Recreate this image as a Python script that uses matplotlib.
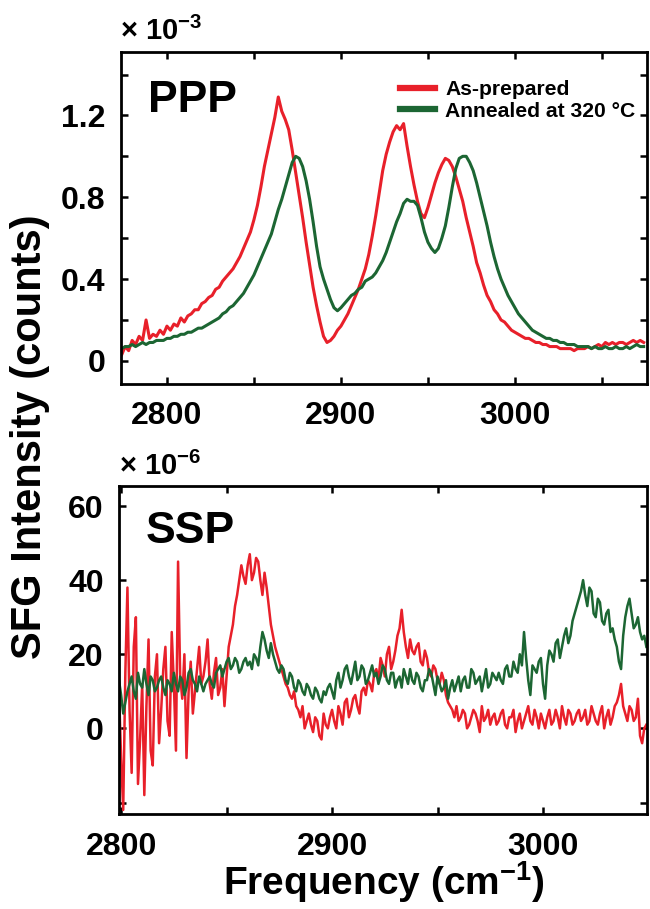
import numpy as np
import matplotlib
matplotlib.use("Agg")
import matplotlib.pyplot as plt
from matplotlib.ticker import FixedLocator, FixedFormatter

plt.rcParams['font.family'] = ['Liberation Sans', 'DejaVu Sans']
plt.rcParams['font.weight'] = 'bold'
plt.rcParams['mathtext.fontset'] = 'custom'
plt.rcParams['mathtext.rm'] = 'Liberation Sans:bold'
plt.rcParams['mathtext.bf'] = 'Liberation Sans:bold'

# ---------------- data ----------------
series_names = ["As-prepared", "Annealed at 320 \u00b0C"]

# PPP (x 1e-3), frequency grid 2774..3074 step 2
ppp_freq = np.arange(2774, 3075, 2)
ppp_asprep = [
    0.03, 0.07, 0.05, 0.10, 0.08, 0.12, 0.10, 0.20, 0.11, 0.13,
    0.12, 0.15, 0.13, 0.17, 0.15, 0.18, 0.17, 0.21, 0.19, 0.22,
    0.23, 0.25, 0.25, 0.28, 0.29, 0.31, 0.32, 0.35, 0.36, 0.39,
    0.41, 0.43, 0.45, 0.48, 0.51, 0.55, 0.59, 0.63, 0.69, 0.76,
    0.85, 0.95, 1.03, 1.11, 1.19, 1.29, 1.22, 1.18, 1.13, 1.03,
    0.92, 0.81, 0.70, 0.58, 0.47, 0.36, 0.27, 0.19, 0.12, 0.09,
    0.10, 0.12, 0.15, 0.17, 0.20, 0.23, 0.27, 0.31, 0.35, 0.40,
    0.45, 0.52, 0.61, 0.71, 0.82, 0.93, 1.01, 1.07, 1.12, 1.15,
    1.13, 1.16, 1.05, 0.95, 0.86, 0.78, 0.72, 0.70, 0.75, 0.81,
    0.87, 0.92, 0.96, 0.99, 0.98, 0.95, 0.90, 0.84, 0.78, 0.70,
    0.63, 0.56, 0.48, 0.43, 0.37, 0.32, 0.29, 0.25, 0.23, 0.20,
    0.19, 0.17, 0.15, 0.14, 0.13, 0.12, 0.11, 0.11, 0.10, 0.09,
    0.09, 0.08, 0.08, 0.07, 0.07, 0.07, 0.06, 0.06, 0.06, 0.06,
    0.05, 0.06, 0.06, 0.06, 0.07, 0.06, 0.07, 0.08, 0.07, 0.09,
    0.08, 0.09, 0.08, 0.09, 0.09, 0.08, 0.09, 0.10, 0.09, 0.10,
    0.09,
]
ppp_annealed = [
    0.06, 0.07, 0.07, 0.08, 0.07, 0.08, 0.09, 0.08, 0.09, 0.09,
    0.10, 0.10, 0.10, 0.11, 0.11, 0.12, 0.12, 0.13, 0.13, 0.14,
    0.14, 0.15, 0.16, 0.16, 0.17, 0.18, 0.19, 0.20, 0.21, 0.23,
    0.24, 0.26, 0.27, 0.29, 0.31, 0.33, 0.36, 0.39, 0.42, 0.46,
    0.50, 0.54, 0.58, 0.62, 0.68, 0.74, 0.79, 0.85, 0.91, 0.97,
    1.00, 0.99, 0.95, 0.88, 0.79, 0.68, 0.56, 0.46, 0.40, 0.35,
    0.30, 0.26, 0.245, 0.26, 0.28, 0.30, 0.32, 0.33, 0.35, 0.36,
    0.39, 0.40, 0.41, 0.43, 0.46, 0.49, 0.53, 0.58, 0.63, 0.68,
    0.72, 0.77, 0.79, 0.78, 0.78, 0.76, 0.70, 0.63, 0.58, 0.55,
    0.53, 0.55, 0.60, 0.66, 0.75, 0.85, 0.94, 0.99, 1.00, 1.00,
    0.97, 0.93, 0.87, 0.80, 0.73, 0.66, 0.58, 0.51, 0.45, 0.40,
    0.36, 0.32, 0.29, 0.26, 0.23, 0.21, 0.19, 0.17, 0.15, 0.14,
    0.13, 0.12, 0.11, 0.11, 0.10, 0.10, 0.09, 0.09, 0.08, 0.08,
    0.08, 0.07, 0.07, 0.07, 0.07, 0.06, 0.07, 0.06, 0.06, 0.07,
    0.06, 0.06, 0.07, 0.06, 0.06, 0.07, 0.06, 0.07, 0.08, 0.07,
    0.07,
]

# SSP (x 1e-6), frequency grid 2799..3049 step 1
ssp_freq = np.arange(2799, 3050, 1)
ssp_asprep = [
    10, -8, -22, 15, 38, 5, -12, 22, 30, -15, -3, 12, -18, 6, 24, -6, -10, 14, 20, -4,
    5, 16, 22, 2, -2, 26, 12, -6, 45, 14, 8, 20, -8, 10, 18, 4, 10, 16, 22, 12,
    14, 18, 24, 12, 8, 15, 19, 9, 11, 16, 6, 14, 22, 25, 28, 33, 36, 40, 44, 41,
    39, 44, 47, 40, 42, 46, 45, 40, 36, 42, 38, 33, 28, 25, 22, 20, 18, 16, 14, 12,
    11, 9, 8, 10, 6, 5, 3, 6, 0, 2, 4, 1, -1, 3, 2, -2, -3, 4, 1, 0,
    3, 5, 2, 0, 6, 4, 1, 7, 8, 3, 5, 8, 9, 6, 4, 10, 11, 9, 13, 12,
    10, 15, 16, 13, 19, 17, 14, 20, 22, 16, 18, 21, 25, 27, 32, 26, 22, 19, 24, 21,
    20, 22, 23, 18, 17, 21, 19, 15, 14, 17, 16, 13, 12, 15, 13, 9, 7, 6, 5, 3,
    6, 2, 3, 5, 4, 0, 1, 3, 5, 4, 2, -1, 6, 2, 3, 5, 1, 3, 4, 1,
    2, 4, 5, 1, 0, 3, 3, 5, -1, 2, 4, 0, 2, 4, 6, 2, 1, 5, 3, 0,
    4, 2, 0, 3, 5, 1, 2, 5, 3, 0, 6, 3, 1, 5, 4, 1, 2, 4, 5, 2,
    3, 5, 1, 2, 6, 4, 2, 1, 4, 6, 0, 3, 5, 1, 3, 6, 7, 9, 12, 6,
    4, 2, 6, 5, 2, 3, 8, -2, -4, 0, 1,
]
ssp_annealed = [
    13, 9, 4, 7, 10, 12, 14, 10, 8, 15, 12, 11, 16, 12, 9, 14, 13, 10, 11, 13,
    14, 11, 9, 13, 12, 10, 15, 12, 10, 14, 13, 9, 11, 15, 16, 13, 12, 10, 14, 12,
    10, 12, 13, 14, 12, 11, 15, 16, 17, 14, 16, 18, 19, 16, 17, 19, 18, 15, 16, 18,
    19, 17, 18, 16, 20, 19, 17, 22, 26, 24, 21, 19, 23, 20, 18, 16, 15, 17, 16, 13,
    12, 15, 14, 11, 10, 13, 12, 10, 9, 12, 11, 9, 8, 11, 10, 8, 7, 10, 9, 11,
    12, 10, 8, 13, 15, 11, 13, 16, 17, 14, 12, 15, 18, 13, 14, 17, 16, 12, 13, 15,
    17, 14, 15, 12, 14, 17, 16, 13, 12, 15, 15, 11, 13, 14, 11, 16, 14, 12, 16, 13,
    12, 15, 14, 11, 10, 13, 13, 16, 15, 12, 9, 14, 12, 10, 11, 13, 8, 11, 13, 10,
    12, 14, 10, 13, 14, 11, 11, 16, 15, 12, 13, 14, 10, 13, 16, 11, 12, 15, 14, 13,
    15, 13, 12, 16, 17, 14, 14, 18, 16, 15, 20, 17, 26, 19, 13, 9, 17, 16, 15, 18,
    19, 12, 8, 17, 21, 20, 18, 23, 24, 19, 22, 25, 27, 23, 25, 29, 31, 33, 35, 37,
    40, 36, 33, 38, 37, 31, 30, 35, 34, 29, 28, 31, 32, 26, 27, 24, 22, 18, 16, 25,
    30, 33, 35, 31, 27, 28, 30, 26, 24, 25, 22,
]

ppp_yticks = [0, 0.4, 0.8, 1.2]
ppp_yticklabels = ["0", "0.4", "0.8", "1.2"]
ssp_yticks = [-20, 0, 20, 40, 60]
ssp_yticklabels = ["", "0", "20", "40", "60"]
xticks = [2800, 2900, 3000]
xticklabels = ["2800", "2900", "3000"]

RED = "#e8202a"
GREEN = "#1c6633"

# ---------------- figure ----------------
W, H = 650, 909
fig = plt.figure(figsize=(W / 100, H / 100), dpi=100)
ax1 = fig.add_axes([121 / W, 1 - 384 / H, 526 / W, 332 / H])
ax2 = fig.add_axes([119 / W, 1 - 814 / H, 528 / W, 328 / H])

l1, = ax1.plot(ppp_freq, ppp_asprep, color=RED, lw=2.2, label=series_names[0])
l2, = ax1.plot(ppp_freq, ppp_annealed, color=GREEN, lw=2.2, label=series_names[1])
ax2.plot(ssp_freq, ssp_asprep, color=RED, lw=1.8)
ax2.plot(ssp_freq, ssp_annealed, color=GREEN, lw=1.8)

ax1.set_xlim(2773.6, 3075.9)
ax1.set_ylim(-0.113, 1.51)
ax2.set_xlim(2799, 3049.3)
ax2.set_ylim(-23.1, 65.4)

for ax in (ax1, ax2):
    ax.xaxis.set_major_locator(FixedLocator(xticks))
    ax.xaxis.set_major_formatter(FixedFormatter(xticklabels))
    ax.xaxis.set_minor_locator(FixedLocator([2850, 2950, 3050]))
    for sp in ax.spines.values():
        sp.set_linewidth(2.0)
    ax.tick_params(which='both', direction='in', length=5, width=1.8,
                   top=True, right=True, labelsize=23)
    ax.tick_params(axis='y', pad=11)

ax1.tick_params(axis='x', pad=12)
ax2.tick_params(axis='x', pad=13)

ax1.yaxis.set_major_locator(FixedLocator(ppp_yticks))
ax1.yaxis.set_major_formatter(FixedFormatter(ppp_yticklabels))
ax1.yaxis.set_minor_locator(FixedLocator([0.2, 0.6, 1.0, 1.4]))
ax2.yaxis.set_major_locator(FixedLocator(ssp_yticks))
ax2.yaxis.set_major_formatter(FixedFormatter(ssp_yticklabels))
ax2.yaxis.set_minor_locator(FixedLocator([]))

ax1.text(0.051, 0.819, "PPP", transform=ax1.transAxes, fontsize=32,
         fontweight='bold', va='baseline', ha='left')
ax2.text(0.051, 0.826, "SSP", transform=ax2.transAxes, fontsize=32,
         fontweight='bold', va='baseline', ha='left')

leg = ax1.legend(handles=[l1, l2], frameon=False, loc='upper left',
                 bbox_to_anchor=(0.53, 0.915), handlelength=1.65,
                 handletextpad=0.5, labelspacing=0.12, borderpad=0,
                 borderaxespad=0, prop={'size': 15.2, 'weight': 'bold'})
for h in leg.legend_handles:
    h.set_linewidth(4.5)

fig.text(120 / W, 1 - 40 / H, "\u00d7 10$^{\\mathbf{-3}}$",
         fontsize=21, fontweight='bold', va='baseline', ha='left')
fig.text(119 / W, 1 - 475 / H, "\u00d7 10$^{\\mathbf{-6}}$",
         fontsize=21, fontweight='bold', va='baseline', ha='left')

fig.text(30 / W, 1 - 437 / H, "SFG Intensity (counts)", rotation=90,
         fontsize=30, fontweight='bold', va='center', ha='center')
fig.text(384 / W, 1 - 895 / H, r"Frequency (cm$^{\mathbf{-1}}$)",
         fontsize=28, fontweight='bold', va='baseline', ha='center')

fig.savefig("out.png", dpi=100)
